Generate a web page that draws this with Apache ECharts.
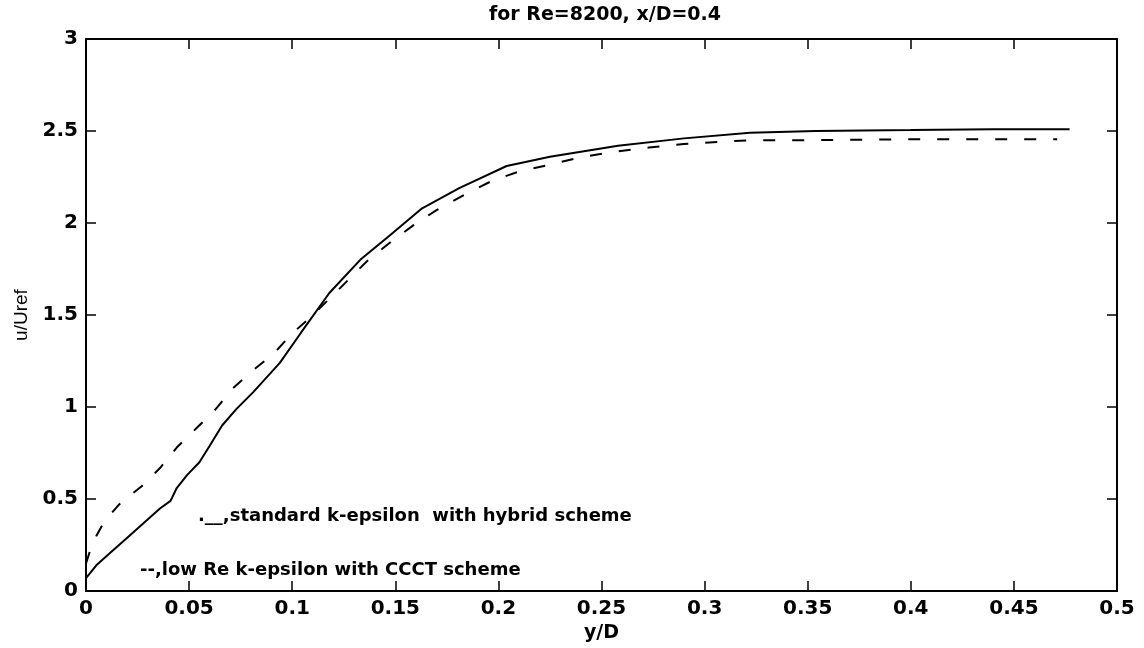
<!DOCTYPE html>
<html>
<head>
<meta charset="utf-8">
<script src="https://cdn.jsdelivr.net/npm/echarts@6/dist/echarts.min.js"></script>
<style>
html,body{margin:0;padding:0;background:#fff;}
#chart{width:1144px;height:648px;}
</style>
</head>
<body>
<div id="chart"></div>
<script>
var titleText = 'for Re=8200, x/D=0.4';
var xName = 'y/D';
var yName = 'u/Uref';
var legendTexts = ['.__,standard k-epsilon  with hybrid scheme', '--,low Re k-epsilon with CCCT scheme'];

// standard k-epsilon with hybrid scheme (solid)
var stdX = [0, 0.005, 0.013, 0.02, 0.028, 0.036, 0.041, 0.044, 0.049, 0.055, 0.06, 0.066, 0.073, 0.081, 0.094, 0.104, 0.118, 0.133, 0.147, 0.163, 0.181, 0.204, 0.225, 0.258, 0.29, 0.322, 0.354, 0.4, 0.44, 0.477];
var stdY = [0.07, 0.14, 0.22, 0.29, 0.37, 0.45, 0.49, 0.56, 0.63, 0.70, 0.79, 0.90, 0.99, 1.08, 1.24, 1.40, 1.62, 1.80, 1.93, 2.08, 2.19, 2.31, 2.36, 2.42, 2.46, 2.49, 2.50, 2.505, 2.51, 2.51];

// low Re k-epsilon with CCCT scheme (dashed)
var lowX = [0, 0.002, 0.005, 0.009, 0.016, 0.027, 0.036, 0.044, 0.054, 0.063, 0.071, 0.081, 0.091, 0.1, 0.109, 0.12, 0.136, 0.147, 0.159, 0.17, 0.183, 0.197, 0.21, 0.226, 0.241, 0.258, 0.273, 0.29, 0.306, 0.322, 0.35, 0.4, 0.471];
var lowY = [0.15, 0.22, 0.30, 0.38, 0.47, 0.57, 0.67, 0.78, 0.89, 0.99, 1.10, 1.20, 1.29, 1.40, 1.49, 1.61, 1.79, 1.89, 1.99, 2.07, 2.15, 2.23, 2.28, 2.32, 2.36, 2.39, 2.41, 2.43, 2.44, 2.45, 2.45, 2.455, 2.455];

function pairs(xs, ys){ return xs.map(function(x,i){ return [x, ys[i]]; }); }

var chart = echarts.init(document.getElementById('chart'));
var boldFont = 'DejaVu Sans';
function axisCommon(){
  return {
    axisLine:{show:true, onZero:false, lineStyle:{color:'#000', width:2}},
    axisTick:{show:true, inside:true, length:10, lineStyle:{color:'#000', width:1.5}},
    splitLine:{show:false}
  };
}
chart.setOption({
  backgroundColor:'#fff',
  animation:false,
  title:{text:titleText, left:600, top:1, textAlign:'center',
    textStyle:{fontFamily:boldFont, fontWeight:'bold', fontSize:19, color:'#000'}},
  grid:{left:86, right:27, top:39, bottom:50, containLabel:false},
  xAxis:[
    Object.assign(axisCommon(), {type:'value', min:0, max:0.5, interval:0.05, position:'bottom',
      name:xName, nameLocation:'middle', nameGap:32,
      nameTextStyle:{fontFamily:boldFont, fontWeight:'bold', fontSize:19, color:'#000'},
      axisLabel:{margin:8, color:'#000', fontFamily:boldFont, fontWeight:'bold', fontSize:20,
        formatter:function(v){ return +v.toFixed(2) + ''; }}}),
    Object.assign(axisCommon(), {type:'value', min:0, max:0.5, interval:0.05, position:'top',
      axisLabel:{show:false}})
  ],
  yAxis:[
    Object.assign(axisCommon(), {type:'value', min:0, max:3, interval:0.5, position:'left',
      name:yName, nameLocation:'middle', nameGap:47,
      nameTextStyle:{fontFamily:'Liberation Sans', fontSize:19, color:'#000'},
      axisLabel:{margin:8, color:'#000', fontFamily:boldFont, fontWeight:'bold', fontSize:20,
        formatter:function(v){ return +v.toFixed(1) + ''; }}}),
    Object.assign(axisCommon(), {type:'value', min:0, max:3, interval:0.5, position:'right',
      axisLabel:{show:false}})
  ],
  series:[
    {type:'line', name:legendTexts[0], xAxisIndex:0, yAxisIndex:0, data:pairs(stdX, stdY), showSymbol:false, smooth:false,
      lineStyle:{color:'#000', width:2, type:'solid'}},
    {type:'line', name:legendTexts[1], xAxisIndex:0, yAxisIndex:0, data:pairs(lowX, lowY), showSymbol:false, smooth:false,
      lineStyle:{color:'#000', width:2, type:[12,17]}}
  ],
  graphic:[
    {type:'text', left:198, top:507, style:{text:legendTexts[0], fill:'#000',
      font:'bold 18px "DejaVu Sans"'}},
    {type:'text', left:140, top:561, style:{text:legendTexts[1], fill:'#000',
      font:'bold 18px "DejaVu Sans"'}}
  ]
});
</script>
</body>
</html>
